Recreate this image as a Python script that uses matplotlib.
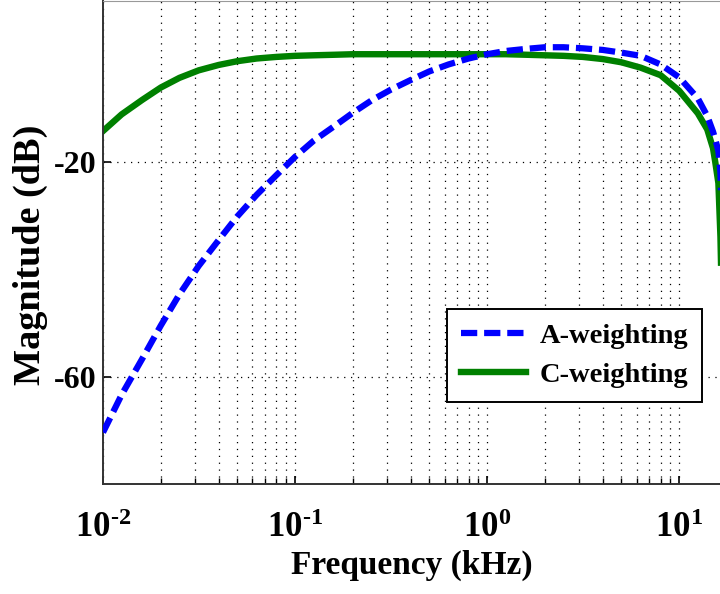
import matplotlib
matplotlib.use("Agg")
import matplotlib.pyplot as plt
from matplotlib.ticker import LogLocator, NullFormatter, FixedLocator

# values (frequency in kHz, magnitude in dB)
freq_khz = [0.010, 0.0125, 0.016, 0.020, 0.025, 0.0315, 0.040, 0.050, 0.063,
            0.080, 0.100, 0.125, 0.160, 0.200, 0.250, 0.315, 0.400, 0.500,
            0.630, 0.800, 1.000, 1.250, 1.600, 2.000, 2.500, 3.150, 4.000,
            5.000, 6.300, 8.000, 10.00, 12.50, 14.00, 15.00, 15.40, 16.00,
            16.40, 17.00]
a_weight = [-70.4, -63.4, -56.7, -50.5, -44.7, -39.4, -34.6, -30.2, -26.2,
            -22.5, -19.1, -16.1, -13.4, -10.9, -8.6, -6.6, -4.8, -3.2,
            -1.9, -0.8, 0.0, 0.6, 1.0, 1.3, 1.3, 1.1, 0.8,
            0.3, -0.3, -1.9, -4.3, -8.2, -11.5, -14.4, -15.8, -18.0,
            -22.0, -40.0]
c_weight = [-14.3, -11.2, -8.5, -6.2, -4.4, -3.0, -2.0, -1.3, -0.8,
            -0.5, -0.3, -0.2, -0.1, 0.0, 0.0, 0.0, 0.0, 0.0,
            0.0, 0.0, 0.0, 0.0, -0.1, -0.2, -0.3, -0.5, -0.9,
            -1.5, -2.5, -3.9, -6.8, -11.0, -14.0, -17.5, -20.0, -24.0,
            -34.0, -60.0]

y_ticks = [-60, -20]
x_ticks = [0.01, 0.1, 1, 10]
x_tick_labels = [r"$10^{\text{-2}}$", r"$10^{\text{-1}}$",
                 r"$10^{\text{0}}$", r"$10^{\text{1}}$"]

plt.rcParams["font.family"] = ["Liberation Serif", "DejaVu Serif"]
plt.rcParams["font.weight"] = "bold"
plt.rcParams["mathtext.fontset"] = "custom"
plt.rcParams["mathtext.rm"] = "Liberation Serif:bold"
plt.rcParams["mathtext.bf"] = "Liberation Serif:bold"
plt.rcParams["mathtext.it"] = "Liberation Serif:bold"

fig = plt.figure(figsize=(7.2, 5.94), dpi=100)
ax = fig.add_axes([103 / 720, 110 / 594, 634 / 720, 483.5 / 594])

ax.plot(freq_khz, a_weight, color=(0, 0, 1), lw=4.5,
        linestyle=(0, (2.6, 1.1)), label="A-weighting", zorder=3)
ax.plot(freq_khz, c_weight, color=(0, 0.5, 0), lw=4.6,
        label="C-weighting", zorder=2)

ax.set_xscale("log")
ax.set_xlim(0.01, 20)
ax.set_ylim(-80, 10)

ax.xaxis.set_major_locator(FixedLocator(x_ticks))
ax.set_xticklabels(x_tick_labels)
ax.xaxis.set_minor_locator(LogLocator(base=10, subs=range(2, 10)))
ax.xaxis.set_minor_formatter(NullFormatter())
ax.set_yticks(y_ticks)
ax.set_yticklabels([str(v) for v in y_ticks])

grid_style = dict(color="black", linestyle=(0, (1, 4.5)), linewidth=0.9)
ax.grid(True, which="major", axis="both", **grid_style)
ax.grid(True, which="minor", axis="x", **grid_style)

ax.tick_params(axis="both", which="both", direction="in", top=False, right=False)
ax.tick_params(axis="both", which="major", length=6, width=1.2, labelsize=23)
ax.tick_params(axis="x", which="major", pad=20, labelsize=25)
ax.tick_params(axis="y", which="major", pad=5)
ax.tick_params(axis="x", which="minor", length=4, width=1.0)

for name in ["left", "bottom"]:
    ax.spines[name].set_color("#333333")
    ax.spines[name].set_linewidth(1.4)
ax.spines["top"].set_color("#999999")

ax.set_xlabel("Frequency (kHz)", fontsize=24, fontweight="bold")
ax.xaxis.set_label_coords(0.487, -0.136)
ax.set_ylabel("Magnitude (dB)", fontsize=27.5, fontweight="bold")
ax.yaxis.set_label_coords(-0.086, 0.473)

leg = ax.legend(loc="lower right", bbox_to_anchor=(0.945, 0.169),
                borderaxespad=0, fancybox=False, fontsize=20.5,
                handlelength=2.3, handletextpad=0.45, labelspacing=0.45,
                borderpad=0.5, framealpha=1, edgecolor="black")
leg.get_frame().set_linewidth(1.4)

fig.savefig("out.png", dpi=100)
